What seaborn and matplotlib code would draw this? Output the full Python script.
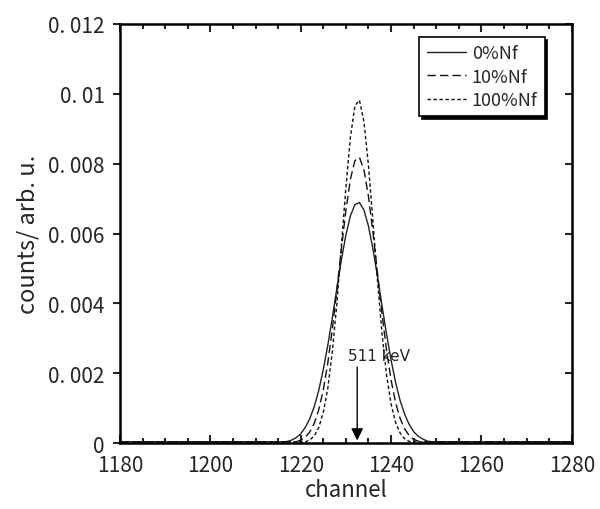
import pandas as pd
import seaborn as sns
import matplotlib.pyplot as plt
from matplotlib.ticker import MultipleLocator

# values
channel = [1180,
           1214, 1215, 1216, 1217, 1218, 1219, 1220, 1221, 1222, 1223,
           1224, 1225, 1226, 1227, 1228, 1229, 1230, 1231, 1232, 1233,
           1234, 1235, 1236, 1237, 1238, 1239, 1240, 1241, 1242, 1243,
           1244, 1245, 1246, 1247, 1248, 1249, 1250, 1251,
           1280]
nf0 = [0.00004,
       0.00004, 0.00004, 0.00004, 0.00005, 0.00009, 0.00016, 0.00027, 0.00045, 0.00070, 0.00105,
       0.00152, 0.00211, 0.00281, 0.00360, 0.00443, 0.00525, 0.00596, 0.00651, 0.00683, 0.00689,
       0.00667, 0.00621, 0.00555, 0.00477, 0.00393, 0.00312, 0.00238, 0.00174, 0.00122, 0.00083,
       0.00054, 0.00033, 0.00020, 0.00012, 0.00006, 0.00004, 0.00004, 0.00004,
       0.00004]
nf10 = [0.00004,
        0.00004, 0.00004, 0.00004, 0.00004, 0.00004, 0.00004, 0.00009, 0.00017, 0.00032, 0.00057,
        0.00096, 0.00153, 0.00230, 0.00327, 0.00438, 0.00556, 0.00667, 0.00756, 0.00809, 0.00818,
        0.00782, 0.00706, 0.00602, 0.00486, 0.00370, 0.00266, 0.00181, 0.00116, 0.00071, 0.00041,
        0.00022, 0.00011, 0.00006, 0.00004, 0.00004, 0.00004, 0.00004, 0.00004,
        0.00004]
nf100 = [0.00004,
         0.00004, 0.00004, 0.00004, 0.00004, 0.00004, 0.00004, 0.00004, 0.00004, 0.00009, 0.00021,
         0.00045, 0.00088, 0.00158, 0.00262, 0.00400, 0.00564, 0.00732, 0.00876, 0.00966, 0.00982,
         0.00920, 0.00795, 0.00632, 0.00464, 0.00313, 0.00195, 0.00112, 0.00059, 0.00029, 0.00013,
         0.00005, 0.00004, 0.00004, 0.00004, 0.00004, 0.00004, 0.00004, 0.00004,
         0.00004]
labels = ['0%Nf', '10%Nf', '100%Nf']
yticks = [0, 0.002, 0.004, 0.006, 0.008, 0.01, 0.012]
ytick_labels = ['0', '0. 002', '0. 004', '0. 006', '0. 008', '0. 01', '0. 012']
xticks = [1180, 1200, 1220, 1240, 1260, 1280]
peak_channel = 1232.5

df = pd.DataFrame({'channel': channel * 3,
                   'counts': nf0 + nf10 + nf100,
                   'sample': [labels[0]] * len(channel) + [labels[1]] * len(channel) + [labels[2]] * len(channel)})

sns.set_style('white')
plt.rcParams['font.family'] = ['Noto Sans CJK JP', 'DejaVu Sans']

fig = plt.figure(figsize=(6, 5.1), dpi=100)
ax = fig.add_axes([0.2, 0.129, 0.753, 0.822])

ax = sns.lineplot(data=df, x='channel', y='counts', hue='sample', style='sample',
                  palette=['#222222', '#111111', '#111111'],
                  dashes={labels[0]: '', labels[1]: (6, 3), labels[2]: (2.5, 1.8)},
                  linewidth=1.0, ax=ax)

ax.set_xlim(1180, 1280)
ax.set_ylim(0, 0.012)
ax.set_xticks(xticks)
ax.set_xticklabels([str(t) for t in xticks], fontsize=15)
ax.set_yticks(yticks)
ax.set_yticklabels(ytick_labels, fontsize=15)
ax.xaxis.set_minor_locator(MultipleLocator(5))
ax.tick_params(axis='x', which='major', direction='in', length=6, width=1.5, top=True, bottom=True, pad=8)
ax.tick_params(axis='x', which='minor', direction='in', length=3.5, width=1.5, top=True, bottom=True)
ax.tick_params(axis='y', which='major', direction='out', length=5, width=1.5, left=True, right=True, pad=6)
for side in ['top', 'bottom', 'left', 'right']:
    ax.spines[side].set_visible(True)
    ax.spines[side].set_color('black')
    ax.spines[side].set_linewidth(1.8)
# right axis ticks point inward
for t in ax.yaxis.get_major_ticks():
    t.tick2line.set_marker(0)
    t.tick2line.set_markersize(5)

ax.set_xlabel('channel', fontsize=16, labelpad=1)
ax.set_ylabel('counts/ arb. u.', fontsize=17, labelpad=6)

ax.annotate('', xy=(peak_channel, 0), xytext=(peak_channel, 0.00226),
            arrowprops=dict(arrowstyle='-|>', color='black', lw=1.0, mutation_scale=18))
ax.text(peak_channel - 2, 0.0025, '511 keV', fontsize=11, family='DejaVu Sans', va='center', ha='left')

leg = ax.legend(loc='upper right', fontsize=13, frameon=True, fancybox=False,
                shadow={'color': 'black', 'alpha': 1.0},
                handlelength=2.2, handletextpad=0.3, borderpad=0.4, labelspacing=0.3,
                borderaxespad=0, bbox_to_anchor=(0.94, 0.969))
leg.get_frame().set_edgecolor('black')
leg.get_frame().set_linewidth(1.2)

plt.savefig('out.png', dpi=100)
